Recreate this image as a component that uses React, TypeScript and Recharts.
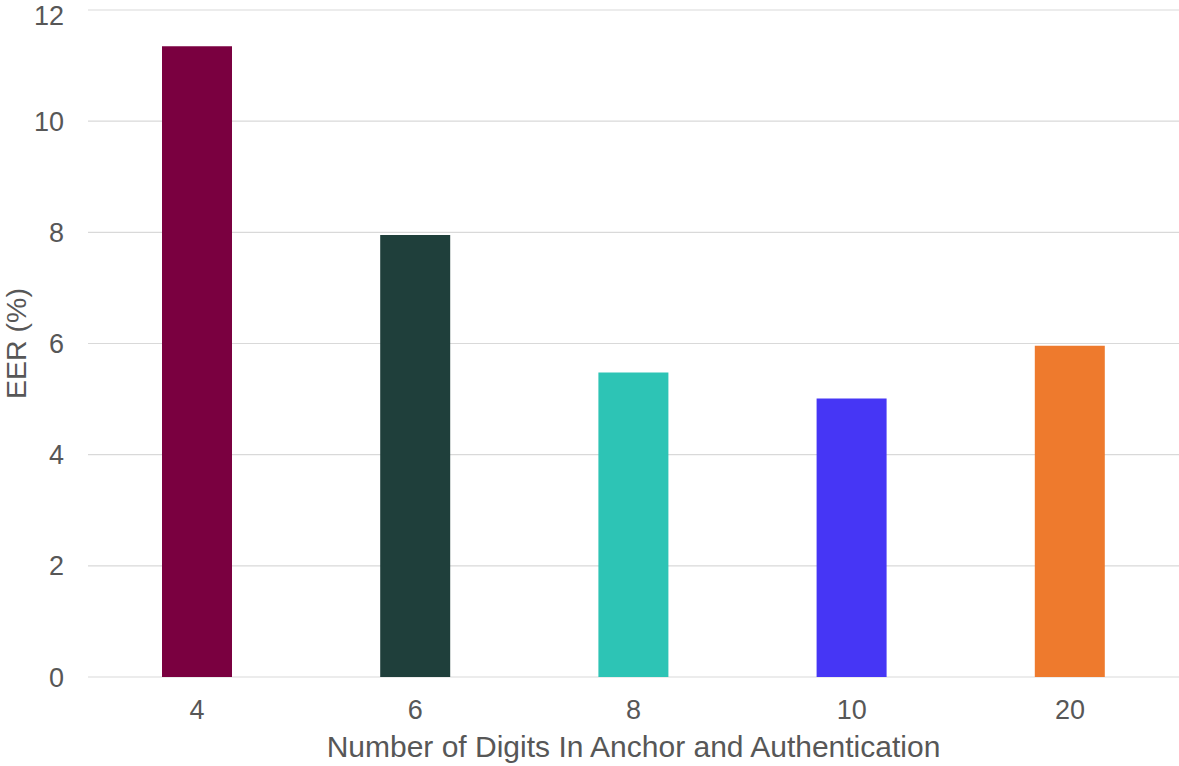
import { BarChart, Bar, Cell, XAxis, YAxis, CartesianGrid } from 'recharts'

// ─── Data ────────────────────────────────────────────────────────

const DIGITS = ['4', '6', '8', '10', '20']
const EER = [11.35, 7.95, 5.48, 5.01, 5.96]
const Y_TICKS = [0, 2, 4, 6, 8, 10, 12]

const BAR_COLORS = ['#7a0040', '#1f3f3b', '#2dc4b5', '#4636f5', '#ee7a2d']

const data = DIGITS.map((d, i) => ({ digits: d, eer: EER[i] }))

const FONT = '"Liberation Sans", Arial, sans-serif'
const TEXT = '#575757'

export default function App() {
  return (
    <div style={{ width: 1179, height: 766, fontFamily: FONT }}>
      <style>{'body { margin: 0; }'}</style>
      <BarChart
        width={1179}
        height={766}
        data={data}
        margin={{ top: 10, right: 0, left: 0, bottom: 0 }}
        barSize={70}
      >
        <CartesianGrid vertical={false} stroke="#d9d9d9" strokeWidth={1.2} />
        <XAxis
          dataKey="digits"
          height={89}
          axisLine={false}
          tickLine={false}
          tickSize={0}
          tickMargin={23}
          tick={{ fill: TEXT, fontSize: 27, fontFamily: FONT }}
          label={{
            value: 'Number of Digits In Anchor and Authentication',
            position: 'insideBottom',
            offset: 9,
            style: { fill: TEXT, fontSize: 30, fontFamily: FONT },
          }}
        />
        <YAxis
          width={88}
          domain={[0, 12]}
          ticks={Y_TICKS}
          axisLine={false}
          tickLine={false}
          tickSize={0}
          tickMargin={24}
          tick={{ fill: TEXT, fontSize: 27, fontFamily: FONT }}
          label={{
            value: 'EER (%)',
            angle: -90,
            position: 'center',
            dx: -28,
            style: { fill: TEXT, fontSize: 28.5, fontFamily: FONT, textAnchor: 'middle' },
          }}
        />
        <Bar dataKey="eer" isAnimationActive={false}>
          {data.map((_, i) => (
            <Cell key={i} fill={BAR_COLORS[i]} />
          ))}
        </Bar>
      </BarChart>
    </div>
  )
}
